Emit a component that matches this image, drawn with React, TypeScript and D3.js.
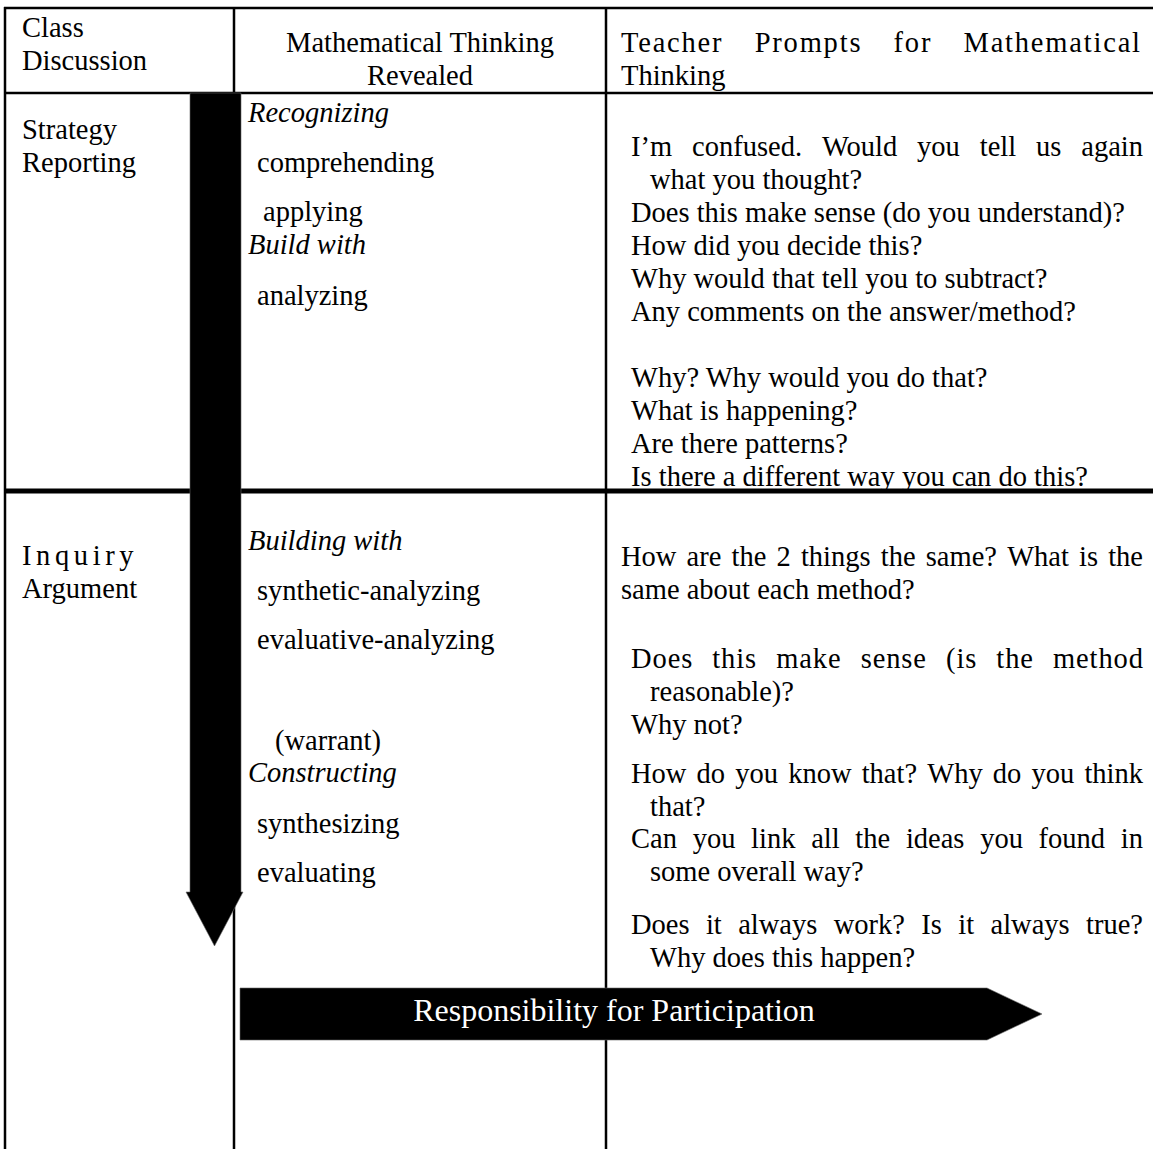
import React from 'react';
import * as d3 from 'd3';

const W = 1153;
const H = 1149;
const FONT = "'Liberation Serif', 'Times New Roman', Times, serif";
const FS = 28.5;

// ---- content ----
const headerClass = ['Class', 'Discussion'];
const headerThinking = ['Mathematical Thinking', 'Revealed'];
const headerPrompts = ['Teacher Prompts for Mathematical', 'Thinking'];

const discussionTypes = [
  ['Strategy', 'Reporting'],
  ['Inquiry', 'Argument'],
];

// thinking column
const thinkingRow1 = ['Recognizing', 'comprehending', 'applying', 'Build with', 'analyzing'];
const thinkingRow1Italic = [true, false, false, true, false];
const thinkingRow2 = ['Building with', 'synthetic-analyzing', 'evaluative-analyzing', '(warrant)', 'Constructing', 'synthesizing', 'evaluating'];
const thinkingRow2Italic = [true, false, false, false, true, false, false];

// prompt column: each entry is a paragraph (array of lines)
const promptsRow1 = [
  ['I\u2019m confused. Would you tell us again', 'what you thought?'],
  ['Does this make sense (do you understand)?'],
  ['How did you decide this?'],
  ['Why would that tell you to subtract?'],
  ['Any comments on the answer/method?'],
  ['Why? Why would you do that?'],
  ['What is happening?'],
  ['Are there patterns?'],
  ['Is there a different way you can do this?'],
];
const promptsRow2 = [
  ['How are the 2 things the same? What is the', 'same about each method?'],
  ['Does this make sense (is the method', 'reasonable)?'],
  ['Why not?'],
  ['How do you know that? Why do you think', 'that?'],
  ['Can you link all the ideas you found in', 'some overall way?'],
  ['Does it always work?  Is it always true?', 'Why does this happen?'],
];
const arrowLabel = 'Responsibility for Participation';

// ---- layout (baselines in px) ----
const colX = [5, 234, 606, 1153];
const rowY = [8, 93, 491, H];
const thinkingRow1Y = [122, 172, 221, 254, 305];
const thinkingRow1X = [248, 257, 263, 248, 257];
const thinkingRow2Y = [550, 600, 649, 750, 782, 833, 882];
const thinkingRow2X = [248, 257, 257, 275, 248, 257, 257];
const promptsRow1Y = [156, 222, 255, 288, 321, 387, 420, 453, 486];
const promptsRow1X = [631, 631, 631, 631, 631, 631, 631, 631, 631];
const promptsRow2Y = [566, 668, 734, 783, 848, 934];
const promptsRow2X = [621, 631, 631, 631, 631, 631];
const promptsRow2Hang = [621, 650, 650, 650, 650, 650];
const LINE = 33;

let _ctx: CanvasRenderingContext2D | null = null;
function measure(s: string, italic = false) {
  if (!_ctx) {
    const c = document.createElement('canvas');
    _ctx = c.getContext('2d');
  }
  _ctx!.font = `${italic ? 'italic ' : ''}${FS}px 'Liberation Serif'`;
  return _ctx!.measureText(s).width;
}

function JustLine({ text, x0, x1, y, justify, gapTarget = 20, maxLs = 1.0 }: { text: string; x0: number; x1: number; y: number; justify: boolean; gapTarget?: number; maxLs?: number }) {
  if (!justify) {
    return (
      <text x={x0} y={y} style={{ whiteSpace: 'pre' }}>
        {text}
      </text>
    );
  }
  const words = text.split(/\s+/);
  const widths = words.map((w) => measure(w));
  const total = d3.sum(widths);
  const nGaps = words.length - 1;
  const innerChars = d3.sum(words, (w) => w.length - 1);
  let ls = (x1 - x0 - total - nGaps * gapTarget) / innerChars;
  if (ls < 0) ls = 0;
  if (ls > maxLs) ls = maxLs;
  const wWidths = words.map((w, i) => widths[i] + ls * (w.length - 1));
  const gap = (x1 - x0 - d3.sum(wWidths)) / nGaps;
  let x = x0;
  const xs = wWidths.map((w) => {
    const cur = x;
    x += w + gap;
    return cur;
  });
  return (
    <text y={y} letterSpacing={ls}>
      {words.map((w, i) => (
        <tspan key={i} x={xs[i]}>
          {w}
        </tspan>
      ))}
    </text>
  );
}

function Paragraphs({ paras, ys, xs, hang, right }: { paras: string[][]; ys: number[]; xs: number[]; hang: number[]; right: number }) {
  return (
    <g>
      {paras.map((p, i) =>
        p.map((line, j) => (
          <JustLine
            key={`${i}-${j}`}
            text={line}
            x0={j === 0 ? xs[i] : hang[i]}
            x1={right}
            y={ys[i] + j * LINE}
            justify={j < p.length - 1}
          />
        ))
      )}
    </g>
  );
}

export default function App() {
  const lineY = d3.scaleLinear().domain([0, 1]).range([0, LINE]);
  const vShaft = { x0: 190, x1: 241, y0: rowY[1], y1: 892 };
  const vHead = { x0: 186, x1: 243, tip: 946 };
  const hArrow = { x0: 240, x1: 987, y0: 988, y1: 1040, tip: 1042 };
  const vArrowPath = d3.line()([
    [vShaft.x0, vShaft.y0],
    [vShaft.x1, vShaft.y0],
    [vShaft.x1, vShaft.y1],
    [vHead.x1, vShaft.y1],
    [(vHead.x0 + vHead.x1) / 2, vHead.tip],
    [vHead.x0, vShaft.y1],
    [vShaft.x0, vShaft.y1],
  ]) + 'Z';
  const hArrowPath = d3.line()([
    [hArrow.x0, hArrow.y0],
    [hArrow.x1, hArrow.y0],
    [hArrow.tip, (hArrow.y0 + hArrow.y1) / 2],
    [hArrow.x1, hArrow.y1],
    [hArrow.x0, hArrow.y1],
  ]) + 'Z';

  return (
    <svg
      width={W}
      height={H}
      style={{ position: 'absolute', left: 0, top: 0, background: '#fff' }}
      fontFamily={FONT}
      fontSize={FS}
      fill="#000"
    >
      <rect x={0} y={0} width={W} height={H} fill="#fff" />
      {/* grid lines */}
      <g stroke="#000" strokeWidth={2.5}>
        <line x1={colX[0] - 1} x2={W} y1={rowY[0]} y2={rowY[0]} />
        <line x1={colX[0]} x2={W} y1={rowY[1]} y2={rowY[1]} />
        {colX.slice(0, 3).map((x, i) => (
          <line key={i} x1={x} x2={x} y1={rowY[0] - 1} y2={H} />
        ))}
      </g>
      <rect x={colX[0]} y={rowY[2] - 2.5} width={W - colX[0]} height={5} fill="#000" />

      {/* headers */}
      {headerClass.map((t, i) => (
        <text key={i} x={22} y={37 + lineY(i)}>
          {t}
        </text>
      ))}
      {headerThinking.map((t, i) => (
        <text key={i} x={(colX[1] + colX[2]) / 2} y={52 + lineY(i)} textAnchor="middle">
          {t}
        </text>
      ))}
      <JustLine text={headerPrompts[0]} x0={621} x1={1140} y={52} justify={true} gapTarget={26} maxLs={1.8} />
      <text x={621} y={52 + LINE}>
        {headerPrompts[1]}
      </text>

      {/* class discussion labels */}
      {discussionTypes[0].map((t, i) => (
        <text key={i} x={22} y={139 + lineY(i)}>
          {t}
        </text>
      ))}
      {discussionTypes[1].map((t, i) => (
        <text key={i} x={22} y={565 + lineY(i)} letterSpacing={i === 0 ? 4.6 : 0}>
          {t}
        </text>
      ))}

      {/* thinking column */}
      {thinkingRow1.map((t, i) => (
        <text key={i} x={thinkingRow1X[i]} y={thinkingRow1Y[i]} fontStyle={thinkingRow1Italic[i] ? 'italic' : 'normal'}>
          {t}
        </text>
      ))}
      {thinkingRow2.map((t, i) => (
        <text key={i} x={thinkingRow2X[i]} y={thinkingRow2Y[i]} fontStyle={thinkingRow2Italic[i] ? 'italic' : 'normal'}>
          {t}
        </text>
      ))}

      {/* prompts */}
      <Paragraphs paras={promptsRow1} ys={promptsRow1Y} xs={promptsRow1X} hang={promptsRow1X.map(() => 650)} right={1143} />
      <Paragraphs paras={promptsRow2} ys={promptsRow2Y} xs={promptsRow2X} hang={promptsRow2Hang} right={1143} />

      {/* arrows */}
      <path d={vArrowPath} fill="#000" stroke="#666" strokeWidth={0.6} />
      <path d={hArrowPath} fill="#000" stroke="#666" strokeWidth={0.6} />
      <text x={614} y={1021} textAnchor="middle" fill="#fff" fontSize={32}>
        {arrowLabel}
      </text>
    </svg>
  );
}
